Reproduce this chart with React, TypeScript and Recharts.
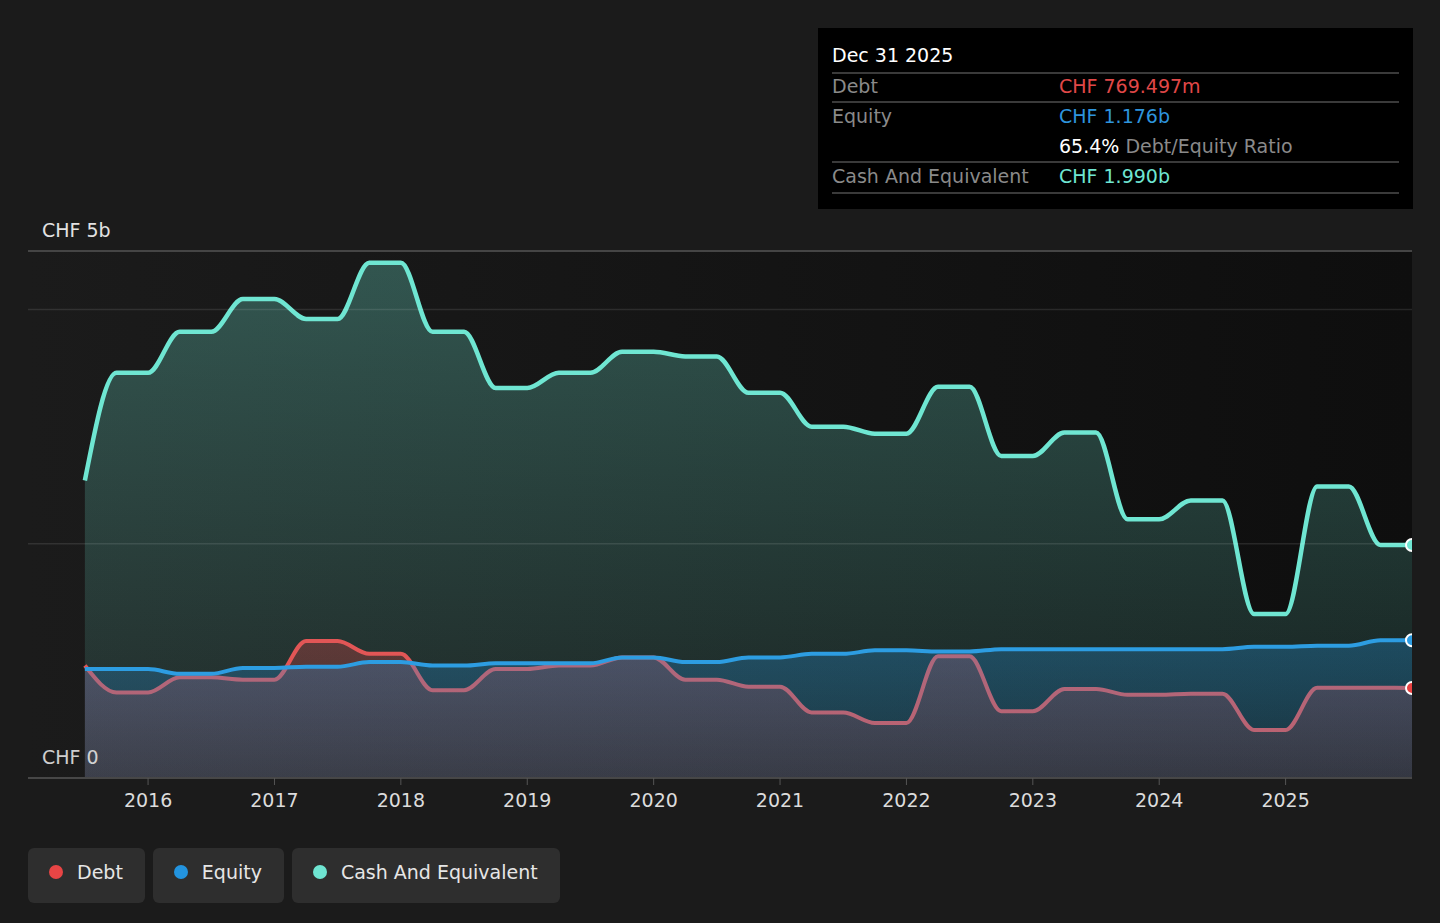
import React from 'react'
import { ComposedChart, Area, XAxis, YAxis, CartesianGrid, ReferenceLine } from 'recharts'

// quarter ends as fractional years (Jun 30 2015 .. Dec 31 2025)
const quarterEnds = [
  2015.5, 2015.75, 2016.0, 2016.25, 2016.5, 2016.75, 2017.0, 2017.25, 2017.5, 2017.75,
  2018.0, 2018.25, 2018.5, 2018.75, 2019.0, 2019.25, 2019.5, 2019.75, 2020.0, 2020.25,
  2020.5, 2020.75, 2021.0, 2021.25, 2021.5, 2021.75, 2022.0, 2022.25, 2022.5, 2022.75,
  2023.0, 2023.25, 2023.5, 2023.75, 2024.0, 2024.25, 2024.5, 2024.75, 2025.0, 2025.25,
  2025.5, 2025.75, 2026.0,
]

// values in CHF billions
const cashValues = [
  2.54, 3.46, 3.46, 3.81, 3.81, 4.09, 4.09, 3.92, 3.92, 4.4,
  4.4, 3.81, 3.81, 3.33, 3.33, 3.46, 3.46, 3.64, 3.64, 3.6,
  3.6, 3.29, 3.29, 3.0, 3.0, 2.94, 2.94, 3.34, 3.34, 2.75,
  2.75, 2.95, 2.95, 2.21, 2.21, 2.37, 2.37, 1.4, 1.4, 2.49,
  2.49, 1.99, 1.99,
]

const debtValues = [
  0.96, 0.73, 0.73, 0.86, 0.86, 0.84, 0.84, 1.17, 1.17, 1.06,
  1.06, 0.75, 0.75, 0.93, 0.93, 0.96, 0.96, 1.03, 1.03, 0.84,
  0.84, 0.78, 0.78, 0.56, 0.56, 0.47, 0.47, 1.04, 1.04, 0.57,
  0.57, 0.76, 0.76, 0.71, 0.71, 0.72, 0.72, 0.41, 0.41, 0.77,
  0.77, 0.77, 0.769,
]

const equityValues = [
  0.93, 0.93, 0.93, 0.89, 0.89, 0.94, 0.94, 0.95, 0.95, 0.99,
  0.99, 0.96, 0.96, 0.98, 0.98, 0.98, 0.98, 1.03, 1.03, 0.99,
  0.99, 1.03, 1.03, 1.06, 1.06, 1.09, 1.09, 1.08, 1.08, 1.1,
  1.1, 1.1, 1.1, 1.1, 1.1, 1.1, 1.1, 1.12, 1.12, 1.13,
  1.13, 1.176, 1.176,
]

const yearTicks = [2016, 2017, 2018, 2019, 2020, 2021, 2022, 2023, 2024, 2025]
const gridValues = [2, 4]
const yMax = 4.5

const data = quarterEnds.map((t, i) => ({
  t,
  debt: debtValues[i],
  equity: equityValues[i],
  cash: cashValues[i],
}))

const DEBT = '#e25656'
const EQUITY = '#2d9de2'
const CASH = '#6fe6d2'
const FONT = '"DejaVu Sans", Verdana, sans-serif'

const endDot = (color: string) => (props: any) => {
  const { cx, cy, index } = props
  if (index !== data.length - 1) return <g key={`dot-${color}-${index}`} />
  return <circle key={`dot-${color}-${index}`} cx={cx} cy={cy} r={6} fill={color} stroke="#fff" strokeWidth={2} />
}

const tooltipRows = [
  { label: 'Debt', value: 'CHF 769.497m', color: '#e04848' },
  { label: 'Equity', value: 'CHF 1.176b', color: '#2e94dc' },
  { label: '', value: '65.4%', extra: ' Debt/Equity Ratio', color: '#ffffff' },
  { label: 'Cash And Equivalent', value: 'CHF 1.990b', color: '#6fe6d2' },
]
const tooltipRules = [44, 73, 133, 164]

const legendItems = [
  { name: 'Debt', color: '#e84545' },
  { name: 'Equity', color: '#2394df' },
  { name: 'Cash And Equivalent', color: '#6fe5d2' },
]

export default function App() {
  return (
    <div
      style={{
        position: 'absolute',
        left: 0,
        top: 0,
        width: 1440,
        height: 923,
        background: '#1b1b1b',
        fontFamily: FONT,
        overflow: 'hidden',
      }}
    >
      <ComposedChart width={1440} height={923} data={data} margin={{ top: 251, right: 28, left: 28, bottom: 115 }}>
        <defs>
          <linearGradient id="plotBg" x1="0" y1="0" x2="1" y2="0">
            <stop offset="0%" stopColor="#1b1b1b" />
            <stop offset="100%" stopColor="#0e0e0e" />
          </linearGradient>
          <linearGradient id="cashFill" x1="0" y1="0" x2="0" y2="1">
            <stop offset="0%" stopColor={CASH} stopOpacity={0.3} />
            <stop offset="100%" stopColor={CASH} stopOpacity={0.08} />
          </linearGradient>
          <linearGradient id="debtFill" x1="0" y1="0" x2="0" y2="1">
            <stop offset="0%" stopColor="#e64646" stopOpacity={0.3} />
            <stop offset="100%" stopColor="#e64646" stopOpacity={0.16} />
          </linearGradient>
          <linearGradient id="equityFill" x1="0" y1="0" x2="0" y2="1">
            <stop offset="0%" stopColor="#2394df" stopOpacity={0.3} />
            <stop offset="100%" stopColor="#2394df" stopOpacity={0.16} />
          </linearGradient>
        </defs>
        <CartesianGrid fill="url(#plotBg)" horizontal={false} vertical={false} />
        <XAxis
          type="number"
          dataKey="t"
          domain={[2015.05, 2026]}
          ticks={yearTicks}
          allowDataOverflow
          height={30}
          tickSize={7}
          tickMargin={9}
          tick={{ fill: '#dcdcdc', fontSize: 19 }}
          axisLine={{ stroke: '#474747', strokeWidth: 2 }}
          tickLine={{ stroke: '#555' }}
        />
        <YAxis hide domain={[0, yMax]} allowDataOverflow />
        <Area
          type="monotoneX"
          dataKey="cash"
          stroke={CASH}
          strokeWidth={4.5}
          fill="url(#cashFill)"
          fillOpacity={1}
          dot={endDot(CASH)}
          activeDot={false}
          isAnimationActive={false}
        />
        <Area
          type="monotoneX"
          dataKey="debt"
          stroke={DEBT}
          strokeWidth={4}
          fill="url(#debtFill)"
          fillOpacity={1}
          dot={endDot('#e84040')}
          activeDot={false}
          isAnimationActive={false}
        />
        <Area
          type="monotoneX"
          dataKey="equity"
          stroke={EQUITY}
          strokeWidth={4}
          fill="url(#equityFill)"
          fillOpacity={1}
          dot={endDot(EQUITY)}
          activeDot={false}
          isAnimationActive={false}
        />
        {gridValues.map((v) => (
          <ReferenceLine key={v} y={v} stroke="rgba(255,255,255,0.1)" strokeWidth={1.5} />
        ))}
        <ReferenceLine y={yMax} stroke="#454545" strokeWidth={2} />
      </ComposedChart>

      {/* y axis labels */}
      <div style={{ position: 'absolute', left: 42, top: 218, fontSize: 19, color: '#e2e2e2', lineHeight: '24px' }}>
        CHF 5b
      </div>
      <div style={{ position: 'absolute', left: 42, top: 745, fontSize: 19, color: '#e2e2e2', lineHeight: '24px', opacity: 0.9 }}>
        CHF 0
      </div>

      {/* tooltip */}
      <div
        style={{
          position: 'absolute',
          left: 818,
          top: 28,
          width: 595,
          height: 181,
          background: '#000',
          fontSize: 19,
        }}
      >
        <div style={{ position: 'absolute', left: 14, top: 15, lineHeight: '24px', color: '#fff' }}>Dec 31 2025</div>
        {tooltipRules.map((top) => (
          <div key={top} style={{ position: 'absolute', left: 14, right: 14, top, height: 2, background: '#3a3a3a' }} />
        ))}
        {tooltipRows.map((r, i) => (
          <div
            key={i}
            style={{ position: 'absolute', left: 14, top: 46 + i * 30, lineHeight: '24px', display: 'flex' }}
          >
            <span style={{ width: 227, color: '#8a8a8a' }}>{r.label}</span>
            <span style={{ color: r.color }}>
              {r.value}
              {r.extra ? <span style={{ color: '#8a8a8a' }}>{r.extra}</span> : null}
            </span>
          </div>
        ))}
      </div>

      {/* legend */}
      <div style={{ position: 'absolute', left: 28, top: 848, display: 'flex', gap: 8 }}>
        {legendItems.map((it) => (
          <div
            key={it.name}
            style={{
              height: 55,
              padding: '0 22px 7px 21px',
              boxSizing: 'border-box',
              background: '#2e2e2e',
              borderRadius: 6,
              display: 'flex',
              alignItems: 'center',
              fontSize: 19,
              color: '#e6e6e6',
            }}
          >
            <span
              style={{
                width: 14,
                height: 14,
                borderRadius: 7,
                background: it.color,
                marginRight: 14,
                display: 'inline-block',
              }}
            />
            {it.name}
          </div>
        ))}
      </div>
    </div>
  )
}
